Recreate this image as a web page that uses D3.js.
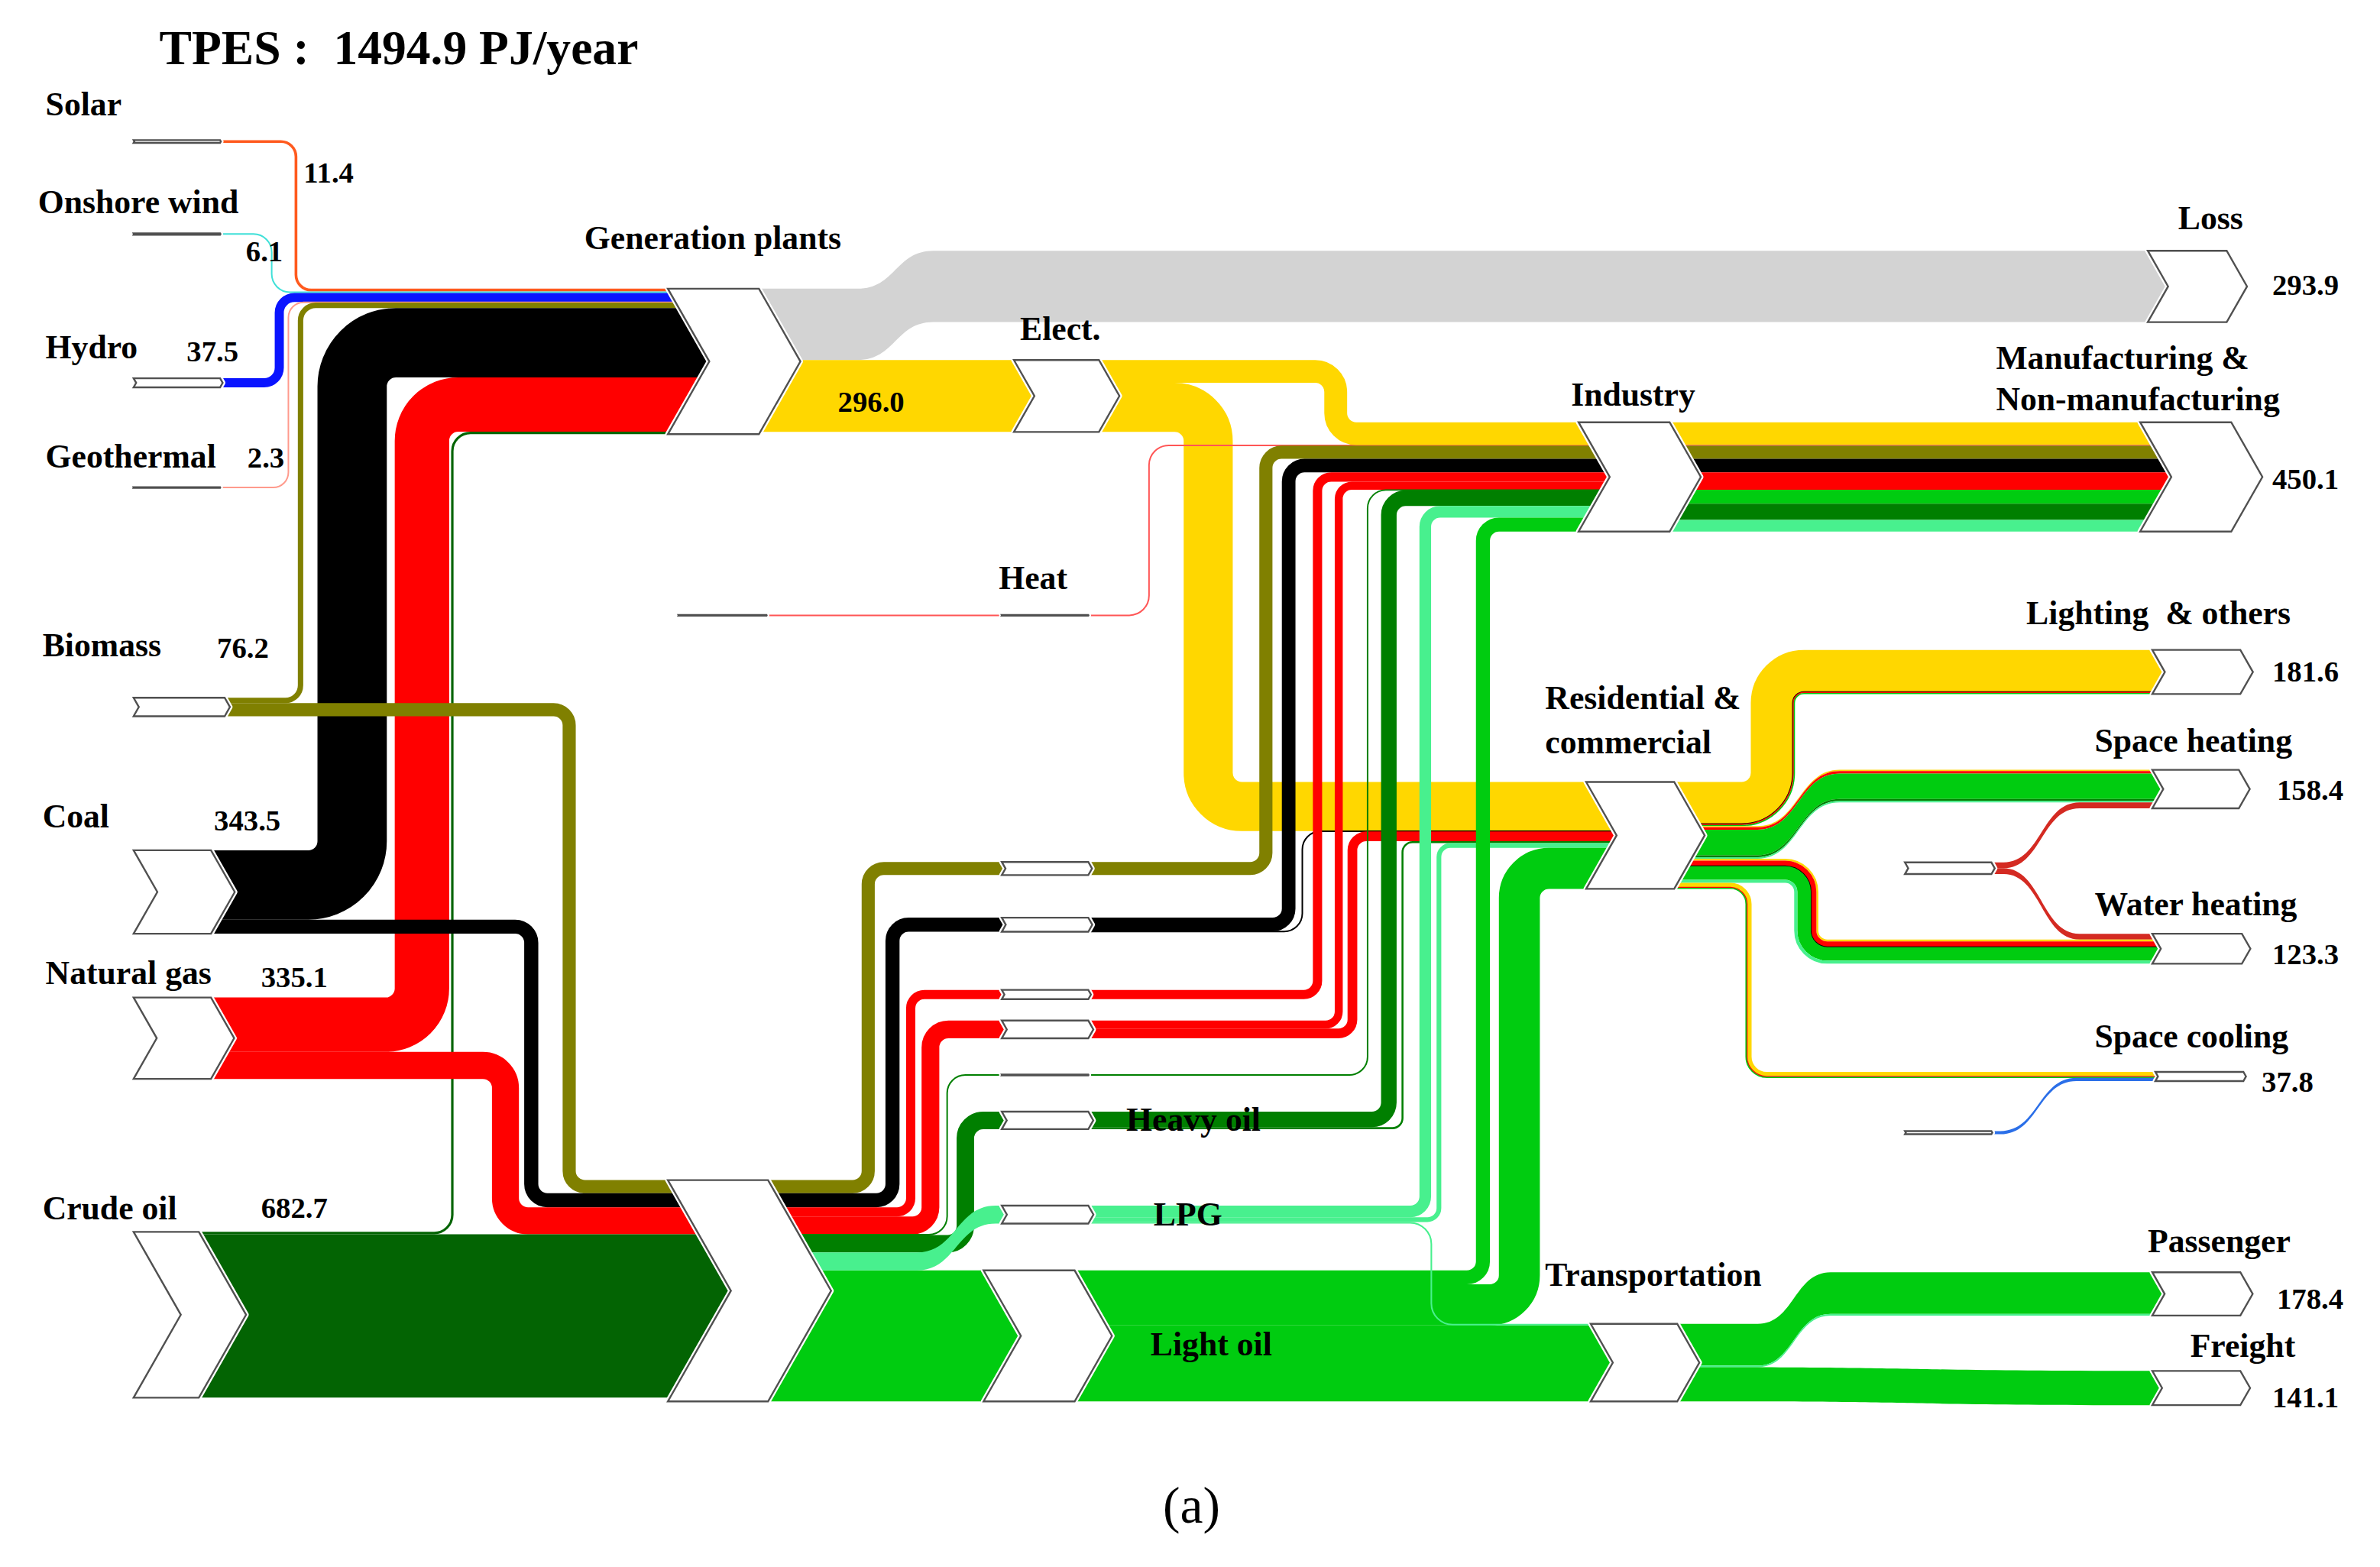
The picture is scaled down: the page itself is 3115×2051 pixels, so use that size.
<!DOCTYPE html>
<html>
<head>
<meta charset="utf-8">
<script src="https://cdn.jsdelivr.net/npm/d3@7"></script>
<style>
  body { margin: 0; background: #fff; }
  text { font-family: "Liberation Serif", "Times New Roman", serif; fill: #000; white-space: pre; }
</style>
</head>
<body>
<svg id="chart"></svg>
<script>
// ---- data (PJ/year) ----
const title = "TPES :  1494.9 PJ/year"
const sourceIds = ["solar", "wind", "hydro", "geo", "biomass", "coal", "gas", "crude"]
const sourceNames = ["Solar", "Onshore wind", "Hydro", "Geothermal", "Biomass", "Coal", "Natural gas", "Crude oil"]
const sourceValues = [11.4, 6.1, 37.5, 2.3, 76.2, 343.5, 335.1, 682.7]

const useIds = ["loss", "mfg", "light", "sh", "wh", "sc", "pass", "frt"]
const useNames = ["Loss", "Manufacturing &|Non-manufacturing", "Lighting  & others", "Space heating",
  "Water heating", "Space cooling", "Passenger", "Freight"]
const useValues = [293.9, 450.1, 181.6, 158.4, 123.3, 37.8, 178.4, 141.1]

const midNames = ["Generation plants", "Elect.", "Heat", "Heavy oil", "LPG", "Light oil",
  "Industry", "Residential &|commercial", "Transportation"]
const electValue = 296.0

// [source, target, PJ, carrier]
const flows = [
  ["solar", "gen", 11.4, "solar"],
  ["wind", "gen", 6.1, "wind"],
  ["hydro", "gen", 37.5, "hydro"],
  ["geo", "gen", 2.3, "geo"],
  ["biomass", "gen", 22.2, "biomass"],
  ["coal", "gen", 285.5, "coal"],
  ["gas", "gen", 224.1, "gas"],
  ["crude", "gen", 10.0, "crude"],
  ["biomass", "conv", 54.0, "biomass"],
  ["coal", "conv", 58.0, "coal"],
  ["gas", "conv", 111.0, "gas"],
  ["crude", "conv", 672.7, "crude"],
  ["gen", "loss", 293.9, "loss"],
  ["gen", "elect", 296.0, "elect"],
  ["heatsrc", "heat", 2.5, "heat"],
  ["conv", "c_bio", 54.0, "biomass"],
  ["conv", "c_coal", 58.0, "coal"],
  ["conv", "c_gas1", 38.0, "gas"],
  ["conv", "c_gas2", 73.0, "gas"],
  ["conv", "c_oil", 3.0, "heavyoil"],
  ["conv", "c_heavy", 72.0, "heavyoil"],
  ["conv", "c_lpg", 73.9, "lpg"],
  ["conv", "c_light", 539.3, "lightoil"],
  ["elect", "ind", 94.0, "elect"],
  ["heat", "ind", 2.5, "heat"],
  ["c_bio", "ind", 54.0, "biomass"],
  ["c_coal", "ind", 56.0, "coal"],
  ["c_gas1", "ind", 38.0, "gas"],
  ["c_gas2", "ind", 33.0, "gas"],
  ["c_oil", "ind", 3.0, "heavyoil"],
  ["c_heavy", "ind", 64.0, "heavyoil"],
  ["c_lpg", "ind", 48.0, "lpg"],
  ["c_light", "ind", 57.6, "lightoil"],
  ["elect", "res", 202.0, "elect"],
  ["c_coal", "res", 2.0, "coal"],
  ["c_gas2", "res", 40.0, "gas"],
  ["c_heavy", "res", 8.0, "heavyoil"],
  ["c_lpg", "res", 19.4, "lpg"],
  ["c_light", "res", 168.7, "lightoil"],
  ["c_lpg", "trans", 6.5, "lpg"],
  ["c_light", "trans", 313.0, "lightoil"],
  ["ind", "mfg", 450.1, "mix"],
  ["res", "light", 181.6, "mix"],
  ["res", "sh", 134.4, "mix"],
  ["amb", "sh", 24.0, "ambient"],
  ["amb", "wh", 24.0, "ambient"],
  ["res", "wh", 99.3, "mix"],
  ["res", "sc", 24.8, "mix"],
  ["ambc", "sc", 13.0, "cool"],
  ["trans", "pass", 178.4, "mix"],
  ["trans", "frt", 141.1, "lightoil"]
]

// carrier make-up of the mixed end-use flows, top to bottom
const mixes = {
  "ind>mfg": [["elect", 94], ["heat", 2.5], ["biomass", 54], ["coal", 56], ["gas", 71], ["lightoil", 57.6], ["heavyoil", 67], ["lpg", 48]],
  "res>light": [["elect", 172], ["coal", 1], ["gas", 4], ["lightoil", 4.6]],
  "res>sh": [["elect", 5], ["gas", 10], ["lightoil", 105], ["heavyoil", 8], ["lpg", 6.4]],
  "res>wh": [["elect", 8], ["gas", 22], ["coal", 1], ["lightoil", 55.3], ["lpg", 13]],
  "res>sc": [["elect", 17], ["gas", 4], ["lightoil", 3.8]],
  "trans>pass": [["lightoil", 171.9], ["lpg", 6.5]]
}

// ---- styles ----
const colors = {
  solar: "#ff5a1e", wind: "#3fe0d8", hydro: "#0a14ff", geo: "#ff9a8c",
  biomass: "#808000", coal: "#000000", gas: "#ff0000", crude: "#036403",
  elect: "#ffd700", loss: "#d3d3d3", heat: "#ff5555", heavyoil: "#007f00",
  lpg: "#48f08e", lightoil: "#00cc10", ambient: "#d42a22", cool: "#2b6fe8"
}

// ---- layout (drawing units, viewBox 1568 x 1032) ----
const nodePos = {
  solar: {x: 88, y: 92.1, b: 57}, wind: {x: 88, y: 153.5, b: 57},
  hydro: {x: 88, y: 249, b: 57}, geo: {x: 88, y: 320.8, b: 57},
  biomass: {x: 88, y: 459.5, b: 60}, coal: {x: 88, y: 560, b: 51},
  gas: {x: 88, y: 657, b: 51}, crude: {x: 88, y: 811.4, b: 43},
  gen: {x: 440, y: 190, b: 60}, conv: {x: 440, y: 777.3, b: 66},
  heatsrc: {x: 447, y: 405, b: 58},
  elect: {x: 668, y: 237, b: 56}, heat: {x: 660, y: 405, b: 57},
  c_bio: {x: 660, y: 567.7, b: 57}, c_coal: {x: 660, y: 604.4, b: 57},
  c_gas1: {x: 660, y: 652, b: 57}, c_gas2: {x: 660, y: 672.2, b: 57},
  c_oil: {x: 660, y: 707.8, b: 57}, c_heavy: {x: 660, y: 732.2, b: 57},
  c_lpg: {x: 660, y: 794.1, b: 57}, c_light: {x: 648, y: 836.8, b: 60},
  ind: {x: 1040, y: 278, b: 60}, res: {x: 1045, y: 515, b: 58},
  trans: {x: 1048, y: 872, b: 57},
  amb: {x: 1255, y: 568, b: 57}, ambc: {x: 1255, y: 745, b: 57},
  loss: {x: 1415, y: 165, b: 52}, mfg: {x: 1410, y: 278, b: 60},
  light: {x: 1418, y: 428, b: 58}, sh: {x: 1418, y: 507, b: 57},
  wh: {x: 1418, y: 615, b: 59}, sc: {x: 1420, y: 706, b: 58},
  pass: {x: 1418, y: 838, b: 58}, frt: {x: 1418, y: 903, b: 58}
}

// bx: x of vertical run (rounded elbows); c: x range of an S-curve
const routes = {
  "solar>gen": {bx: 195, r: 10, layer: 1}, "wind>gen": {bx: 179, r: 12, layer: 1},
  "hydro>gen": {bx: 184, r: 10, layer: 1}, "geo>gen": {bx: 190, r: 10, layer: 1},
  "biomass>gen": {bx: 198, r: 10, layer: 1}, "coal>gen": {bx: 232, layer: 1},
  "gas>gen": {bx: 278, layer: 1}, "crude>gen": {bx: 298, r: 12, layer: 1},
  "biomass>conv": {bx: 375, layer: 2}, "coal>conv": {bx: 350, layer: 2},
  "gas>conv": {bx: 333, layer: 2},
  "gen>loss": {c: [565, 615], layer: 0},
  "conv>c_bio": {bx: 572, layer: 3}, "conv>c_coal": {bx: 588, layer: 3},
  "conv>c_gas1": {bx: 600, layer: 3}, "conv>c_gas2": {bx: 613, layer: 3},
  "conv>c_oil": {bx: 624, r: 12, layer: 3}, "conv>c_heavy": {bx: 636, layer: 3},
  "conv>c_lpg": {c: [604, 656], layer: 4},
  "elect>res": {bx: 796, layer: 5},
  "heat>ind": {bx: 757, r: 13, layer: 6},
  "c_coal>res": {bx: 858, r: 12, layer: 6}, "c_gas2>res": {bx: 891, layer: 6},
  "c_heavy>res": {bx: 924, layer: 6}, "c_lpg>res": {bx: 948, layer: 6},
  "c_light>res": {bx: 1001, layer: 6},
  "elect>ind": {bx: 880, layer: 7}, "c_bio>ind": {bx: 834, layer: 7},
  "c_coal>ind": {bx: 849, layer: 7}, "c_gas1>ind": {bx: 868, layer: 7},
  "c_gas2>ind": {bx: 882, layer: 7}, "c_oil>ind": {bx: 901, r: 12, layer: 7},
  "c_heavy>ind": {bx: 915, layer: 7}, "c_lpg>ind": {bx: 939, layer: 7},
  "c_light>ind": {bx: 977, layer: 7},
  "c_lpg>trans": {bx: 943, r: 14, layer: 9},
  "res>light": {bx: 1168, layer: 8}, "res>sh": {c: [1158, 1212], layer: 8},
  "res>wh": {bx: 1190, layer: 8}, "res>sc": {bx: 1152, r: 12, layer: 8},
  "amb>sh": {c: [1320, 1370], layer: 8}, "amb>wh": {c: [1320, 1370], layer: 8},
  "ambc>sc": {c: [1318, 1368], layer: 8}, "trans>pass": {c: [1158, 1206], layer: 8},
  "trans>frt": {c: [1130, 1400], layer: 8}
}

const sourceLabelXY = [[30, 76], [25, 140], [30, 236], [30, 308], [28, 432], [28, 545], [30, 648], [28, 803]]
const sourceValueXY = [[200, 120], [162, 172], [123, 238], [163, 308], [143, 433], [141, 547], [172, 650], [172, 802]]
const useLabelXY = [[1435, 151], [1315, 243], [1335, 411], [1380, 495], [1380, 603], [1380, 690], [1415, 825], [1443, 894]]
const useValueXY = [[1497, 194], [1497, 322], [1497, 449], [1500, 527], [1497, 635], [1490, 719], [1500, 862], [1497, 927]]
const midLabelXY = [[385, 164], [672, 224], [658, 388], [742, 745], [760, 807], [758, 893], [1035, 267], [1018, 467], [1018, 847]]

// ---- scale: PJ -> band thickness ----
const thick = d3.scaleLinear().domain([0, 100]).range([0, 16])

const svg = d3.select("#chart")
  .attr("width", 3115)
  .attr("height", 2051)
  .attr("viewBox", "0 0 1568 1032")

// node sizes from the flows
const nodes = {}
Object.keys(nodePos).forEach(id => {
  nodes[id] = Object.assign({id: id, inSum: 0, outSum: 0, inOff: 0, outOff: 0}, nodePos[id])
})
sourceIds.forEach((id, i) => { nodes[id].value = sourceValues[i] })
flows.forEach(f => {
  nodes[f[0]].outSum += f[2]
  nodes[f[1]].inSum += f[2]
})
Object.values(nodes).forEach(n => {
  n.h = thick(n.value != null ? n.value : Math.max(n.inSum, n.outSum))
  n.dp = n.h * 0.285
})

// stack flows on their nodes, in list order
const links = flows.map(f => {
  const s = nodes[f[0]], t = nodes[f[1]]
  const bw = thick(f[2])
  const l = {key: f[0] + ">" + f[1], value: f[2], carrier: f[3], bw: bw}
  l.x0 = s.x + s.b
  l.x1 = t.x + t.dp
  l.y0 = s.y + s.outOff; s.outOff += bw
  l.y1 = t.y + t.inOff; t.inOff += bw
  l.route = routes[l.key] || {c: [(l.x0 + l.x1) / 2, (l.x0 + l.x1) / 2], layer: 3}
  return l
})

function elbow(x0, y0, x1, y1, bx, r, d) {
  const s = y1 > y0 ? 1 : -1
  r = Math.min(r, Math.abs(y1 - y0) / 2)
  const r1 = Math.max(0, r - s * d), r2 = Math.max(0, r + s * d)
  const X = bx - s * d, Y0 = y0 + d, Y1 = y1 + d
  const p = d3.path()
  p.moveTo(x0, Y0)
  p.arcTo(X, Y0, X, Y1, r1)
  p.arcTo(X, Y1, x1, Y1, r2)
  p.lineTo(x1, Y1)
  return p.toString()
}

function band(x0, a0, b0, x1, a1, b1, c0, c1) {
  const cm = (c0 + c1) / 2
  const p = d3.path()
  p.moveTo(x0, a0)
  p.lineTo(c0, a0)
  p.bezierCurveTo(cm, a0, cm, a1, c1, a1)
  p.lineTo(x1, a1)
  p.lineTo(x1, b1)
  p.lineTo(c1, b1)
  p.bezierCurveTo(cm, b1, cm, b0, c0, b0)
  p.lineTo(x0, b0)
  p.closePath()
  return p.toString()
}

// every link becomes one or more pieces (stripes for mixed flows)
const pieces = []
links.forEach(l => {
  const parts = l.carrier === "mix" ? mixes[l.key] : [[l.carrier, l.value]]
  const minW = parts.length > 1 ? 0.8 : 1
  let off = 0
  parts.forEach(p => {
    const pw = thick(p[1])
    const dw = Math.max(pw, minW)
    const mid = off + pw / 2
    const r = l.route
    if (r.bx != null) {
      const rad = r.r != null ? r.r : l.bw / 2 + 6
      pieces.push({layer: r.layer, color: colors[p[0]], stroke: dw,
        d: elbow(l.x0, l.y0 + l.bw / 2, l.x1, l.y1 + l.bw / 2, r.bx, rad, mid - l.bw / 2)})
    } else {
      const e = (dw - pw) / 2
      pieces.push({layer: r.layer, color: colors[p[0]], stroke: 0,
        d: band(l.x0, l.y0 + off - e, l.y0 + off + pw + e, l.x1, l.y1 + off - e, l.y1 + off + pw + e, r.c[0], r.c[1])})
    }
    off += pw
  })
})

const ordered = d3.sort(pieces.map((p, i) => Object.assign(p, {i: i})), p => p.layer, p => p.i)

svg.append("g")
  .selectAll("path")
  .data(ordered)
  .join("path")
  .attr("d", d => d.d)
  .attr("fill", d => d.stroke ? "none" : d.color)
  .attr("stroke", d => d.stroke ? d.color : "none")
  .attr("stroke-width", d => d.stroke || null)

// chevron nodes
function chevron(n) {
  const h = n.h, d = n.dp
  return [[n.x, n.y], [n.x + n.b, n.y], [n.x + n.b + d, n.y + h / 2],
    [n.x + n.b, n.y + h], [n.x, n.y + h], [n.x + d, n.y + h / 2]].join(" ")
}
const nodeList = Object.values(nodes)
const ng = svg.append("g")
ng.selectAll("polygon.halo")
  .data(nodeList)
  .join("polygon")
  .attr("class", "halo")
  .attr("points", chevron)
  .attr("fill", "#fff")
  .attr("stroke", "#fff")
  .attr("stroke-width", 3.5)
  .attr("stroke-linejoin", "round")
ng.selectAll("polygon.node")
  .data(nodeList)
  .join("polygon")
  .attr("class", "node")
  .attr("points", chevron)
  .attr("fill", "#fff")
  .attr("stroke", "#505050")
  .attr("stroke-width", 1.2)
  .attr("stroke-linejoin", "miter")

// text
const tg = svg.append("g")
function label(txt, xy, size, weight, lh) {
  const t = tg.append("text")
    .attr("x", xy[0]).attr("y", xy[1])
    .attr("font-size", size)
    .attr("font-weight", weight)
  txt.split("|").forEach((s, i) => {
    t.append("tspan").attr("x", xy[0]).attr("dy", i ? lh : 0).text(s)
  })
  return t
}

label(title, [105, 42], 32, "bold")
sourceNames.forEach((s, i) => label(s, sourceLabelXY[i], 22, "bold"))
sourceValues.forEach((v, i) => label(v.toFixed(1), sourceValueXY[i], 19.5, "bold"))
useNames.forEach((s, i) => label(s, useLabelXY[i], 22, "bold", 27))
useValues.forEach((v, i) => label(v.toFixed(1), useValueXY[i], 19.5, "bold"))
midNames.forEach((s, i) => label(s, midLabelXY[i], 22, "bold", 29))
label(electValue.toFixed(1), [552, 271], 19.5, "bold")
label("(a)", [785, 1003], 34, "normal").attr("text-anchor", "middle")
</script>
</body>
</html>
